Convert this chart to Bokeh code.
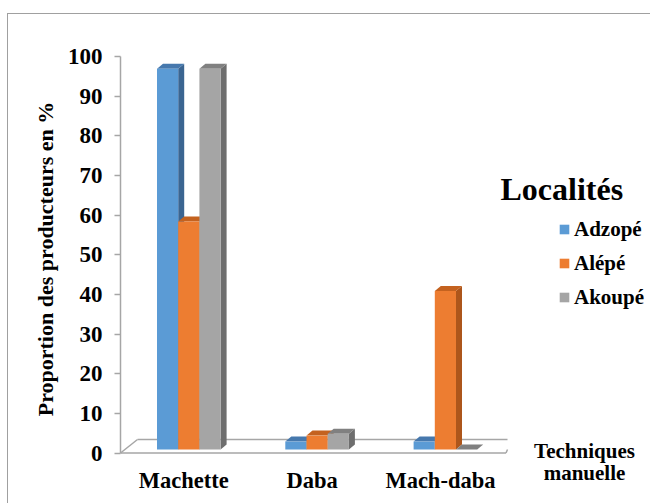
from bokeh.plotting import figure
from bokeh.models import ColumnDataSource, Range1d, FixedTicker, Legend, LegendItem
from bokeh.core.properties import value
from bokeh.embed import file_html
from bokeh.resources import INLINE

# ---- data ----
categories = ["Machette", "Daba", "Mach-daba"]
series_names = ["Adzopé", "Alépé", "Akoupé"]
adzope = [96, 2, 2]
alepe = [57.5, 3.5, 40]
akoupe = [96, 4, 0]
y_ticks = [0, 10, 20, 30, 40, 50, 60, 70, 80, 90, 100]
y_title = "Proportion des producteurs en %"
legend_title = "Localités"
x_title = ["Techniques", "manuelle"]

# ---- style / geometry ----
FONT = "Liberation Serif"
W, H = 650, 503
FL, FT = 120, 14          # frame left / top (px)
PXX = 128.3               # px per category
PXY = 3.965               # px per unit
Y0 = 452.5                # px of value 0
GC0 = 188.3               # px of first group centre

x_start = -(GC0 - FL) / PXX
x_end = x_start + (W - FL) / PXX
y_top = (Y0 - FT) / PXY
y_bot = (Y0 - H) / PXY


def X(px):
    return x_start + (px - FL) / PXX


def Y(py):
    return (Y0 - py) / PXY


bw = 21.2 / PXX
dx = 6.0 / PXX
dy = 5.0 / PXY
base = 3.5 / PXY
AXC = "#a6a6a6"
BORDER = "#a0a0a0"

colors = [
    ("#5b9bd5", "#4678ad", "#3b6591"),
    ("#ed7d31", "#c4621f", "#ad561b"),
    ("#a5a5a5", "#808080", "#6e6e6e"),
]

p = figure(width=W, height=H, x_range=Range1d(x_start, x_end), y_range=Range1d(y_bot, y_top),
           output_backend="svg", toolbar_location=None, x_axis_location=None,
           min_border_left=FL, min_border_right=0, min_border_top=FT, min_border_bottom=0)
p.outline_line_color = None
p.xgrid.visible = False
p.ygrid.visible = False
p.background_fill_color = None
p.border_fill_color = None
# outer chart border (left and top edges, as in the reference)
p.styles = {
    "background-color": "white",
    "background-image": f"linear-gradient({BORDER}, {BORDER}), linear-gradient({BORDER}, {BORDER})",
    "background-position": "7px 13px, 7px 13px",
    "background-size": "1px 1000px, 1000px 1px",
    "background-repeat": "no-repeat",
}

ax = p.yaxis[0]
ax.ticker = FixedTicker(ticks=y_ticks)
ax.bounds = (0, 100)
ax.axis_line_color = AXC
ax.axis_line_width = 1.5
ax.major_tick_line_color = AXC
ax.major_tick_line_width = 1.5
ax.major_tick_out = 6
ax.major_tick_in = 0
ax.minor_tick_line_color = None
ax.major_label_text_font = FONT
ax.major_label_text_font_size = "23px"
ax.major_label_text_font_style = "bold"
ax.major_label_text_color = "black"
ax.major_label_standoff = 12
ax.axis_label = y_title
ax.axis_label_text_font = FONT
ax.axis_label_text_font_size = "22px"
ax.axis_label_text_font_style = "bold"
ax.axis_label_text_color = "black"
ax.axis_label_standoff = 7

# floor
p.line([X(120), X(505.5)], [Y(452.5), Y(452.5)], line_color=AXC, line_width=1.5)
p.line([X(137), X(507)], [Y(439), Y(439)], line_color=AXC, line_width=1.5)
p.line([X(120), X(137)], [Y(452.5), Y(439)], line_color=AXC, line_width=1.5)
p.line([X(505.5), X(507)], [Y(452.5), Y(449)], line_color=AXC, line_width=1.5)

# bars
renderers = []
for k, vals in enumerate([adzope, alepe, akoupe]):
    front, topc, sidec = colors[k]
    lefts = [i - 1.5 * bw + k * bw for i in range(len(categories))]
    rights = [l + bw for l in lefts]
    bottoms = [base] * len(vals)
    tops = [base + v for v in vals]
    side_xs = [[r, r + dx, r + dx, r] for r in rights]
    side_ys = [[base, base + dy, t + dy, t] for t in tops]
    top_xs = [[l, l + dx, r + dx, r] for l, r in zip(lefts, rights)]
    top_ys = [[t, t + dy, t + dy, t] for t in tops]
    p.patches(side_xs, side_ys, fill_color=sidec, line_color=None)
    p.patches(top_xs, top_ys, fill_color=topc, line_color=None)
    src = ColumnDataSource(dict(left=lefts, right=rights, bottom=bottoms, top=tops))
    r = p.quad(left="left", right="right", bottom="bottom", top="top", source=src,
               fill_color=front, line_color=None)
    renderers.append(r)

legend = Legend(items=[LegendItem(label=n, renderers=[r]) for n, r in zip(series_names, renderers)],
                location=(438, 193.5), glyph_width=12, glyph_height=12, label_height=25,
                spacing=9, label_standoff=4, padding=0, margin=0,
                border_line_color=None, background_fill_alpha=0,
                label_text_font=FONT, label_text_font_size="21px",
                label_text_font_style="bold", label_text_color="black")
p.add_layout(legend)

# category labels
csrc = ColumnDataSource(dict(x=list(range(len(categories))), y=[Y(480)] * len(categories), t=categories))
p.text(x="x", y="y", text="t", source=csrc, x_offset=-5, text_align="center", text_baseline="middle",
       text_font=value(FONT), text_font_size="22.5px", text_font_style="bold", text_color="black")

p.text(x=[X(500)], y=[Y(188)], text=[legend_title], text_align="left", text_baseline="middle",
       text_font=value(FONT), text_font_size="32px", text_font_style="bold", text_color="black")
p.text(x=[X(584)] * 2, y=[Y(450), Y(472)], text=x_title, text_align="center", text_baseline="middle",
       text_font=value(FONT), text_font_size="21px", text_font_style="bold", text_color="black")

open("out.html", "w").write(file_html(p, INLINE))
